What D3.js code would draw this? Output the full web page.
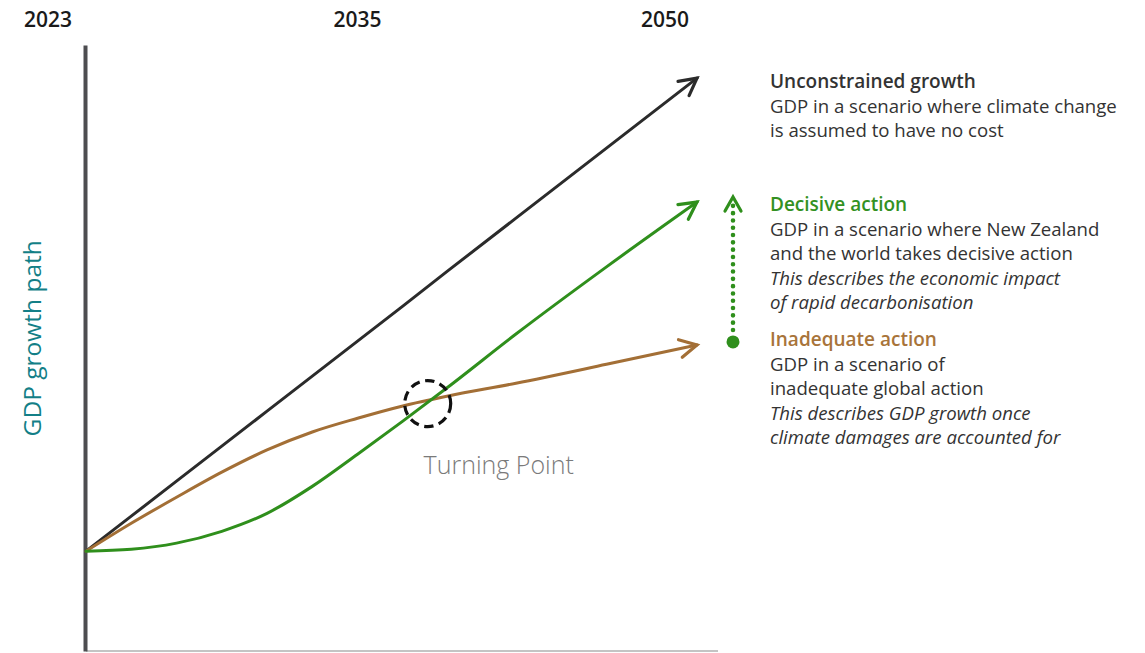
<!DOCTYPE html>
<html>
<head>
<meta charset="utf-8">
<script src="https://cdn.jsdelivr.net/npm/d3@7"></script>
<style>
  html, body { margin: 0; padding: 0; background: #ffffff; }
  svg { display: block; font-family: "Open Sans", "Noto Sans", sans-serif; }
</style>
</head>
<body>
<svg id="chart" width="1145" height="653"></svg>
<script>
// Scenario years and GDP index paths (2023 = 100)
const years = [2023, 2025, 2027, 2029, 2031, 2033, 2035, 2037, 2039, 2042, 2046, 2050];
const unconstrained = [100, 107.4, 114.8, 122.2, 129.6, 137.0, 144.4, 151.8, 159.3, 170.4, 185.2, 200];
const decisive = [100, 100.4, 101.7, 104.2, 108.0, 113.7, 120.5, 127.5, 134.7, 145.9, 160.1, 173.8];
const inadequate = [100, 105.9, 111.4, 116.7, 121.4, 125.2, 128.1, 130.7, 132.8, 135.5, 139.5, 143.6];

const tickYears = [2023, 2035, 2050];
const tickLabels = ["2023", "2035", "2050"];
const turningPoint = { year: 2038.1, value: 131.2, label: "Turning Point" };
const yLabel = "GDP growth path";

const legendBlocks = [
  { title: "Unconstrained growth", color: "#333333",
    lines: ["GDP in a scenario where climate change", "is assumed to have no cost"], italic: [] },
  { title: "Decisive action", color: "#339122",
    lines: ["GDP in a scenario where New Zealand", "and the world takes decisive action"],
    italic: ["This describes the economic impact", "of rapid decarbonisation"] },
  { title: "Inadequate action", color: "#a8743a",
    lines: ["GDP in a scenario of", "inadequate global action"],
    italic: ["This describes GDP growth once", "climate damages are accounted for"] }
];

const svg = d3.select("#chart");

const x = d3.scaleLinear().domain([2023, 2050]).range([86, 697]);
const y = d3.scaleLinear().domain([78.9, 207]).range([651, 45]);

const colors = { black: "#2b2b2b", green: "#2f8f1c", brown: "#a36f36" };

// Arrowhead markers (open chevrons)
const defs = svg.append("defs");
function chevron(id, color, along, half, width) {
  defs.append("marker")
    .attr("id", id)
    .attr("markerUnits", "userSpaceOnUse")
    .attr("viewBox", `${-along - 4} ${-half - 4} ${along + 8} ${2 * half + 8}`)
    .attr("refX", 0).attr("refY", 0)
    .attr("markerWidth", along + 8).attr("markerHeight", 2 * half + 8)
    .attr("orient", "auto")
    .append("path")
    .attr("d", `M${-along},${-half} L0,0 L${-along},${half}`)
    .attr("fill", "none")
    .attr("stroke", color)
    .attr("stroke-width", width)
    .attr("stroke-linecap", "round")
    .attr("stroke-linejoin", "miter");
}
chevron("arrow-black", colors.black, 17, 9, 3.2);
chevron("arrow-green", colors.green, 17, 9, 3.2);
chevron("arrow-brown", colors.brown, 17, 9, 3.2);
chevron("arrow-dots", colors.green, 14, 8, 3.2);

// Axes: bottom baseline and vertical axis
const xAxis = d3.axisBottom(x).tickValues([]).tickSize(0).tickSizeOuter(0);
const gx = svg.append("g").attr("transform", `translate(0,${y(78.9)})`).call(xAxis);
gx.select(".domain").attr("stroke", "#c4c4c4").attr("stroke-width", 2)
  .attr("d", `M${x(2023)},0H${718}`);

const yAxis = d3.axisLeft(y).tickValues([]).tickSize(0).tickSizeOuter(0);
const gy = svg.append("g").attr("transform", `translate(${x(2023) - 1},0)`).call(yAxis);
gy.select(".domain").attr("stroke", "#4d4d50").attr("stroke-width", 4);

// Year labels on top
svg.append("g").selectAll("text")
  .data(tickYears)
  .join("text")
  .attr("x", (d, i) => x(d) + [-38, 0, -32][i])
  .attr("y", 27)
  .attr("text-anchor", "middle")
  .attr("font-size", 21)
  .attr("font-weight", 600)
  .attr("fill", "#1a1a1a")
  .text((d, i) => tickLabels[i]);

// Vertical axis title
svg.append("text")
  .attr("transform", `translate(41,${y(145)}) rotate(-90)`)
  .attr("text-anchor", "middle")
  .attr("font-size", 24.5)
  .attr("fill", "#137f87")
  .text(yLabel);

// Scenario paths
const line = d3.line()
  .x((d, i) => x(years[i]))
  .y(d => y(d));

const series = [
  { values: unconstrained, color: colors.black, marker: "arrow-black", curve: d3.curveLinear },
  { values: inadequate, color: colors.brown, marker: "arrow-brown", curve: d3.curveMonotoneX },
  { values: decisive, color: colors.green, marker: "arrow-green", curve: d3.curveMonotoneX }
];

svg.append("g").selectAll("path")
  .data(series)
  .join("path")
  .attr("d", s => line.curve(s.curve)(s.values))
  .attr("fill", "none")
  .attr("stroke", s => s.color)
  .attr("stroke-width", 3)
  .attr("stroke-linecap", "round")
  .attr("marker-end", s => `url(#${s.marker})`);

// Turning point marker
svg.append("circle")
  .attr("cx", x(turningPoint.year))
  .attr("cy", y(turningPoint.value))
  .attr("r", 23)
  .attr("fill", "none")
  .attr("stroke", "#111")
  .attr("stroke-width", 3.2)
  .attr("stroke-dasharray", "9.5 5.5");

svg.append("text")
  .attr("x", x(turningPoint.year) + 71)
  .attr("y", y(turningPoint.value) + 70)
  .attr("text-anchor", "middle")
  .attr("font-size", 25)
  .attr("font-weight", 300)
  .attr("fill", "#7a7a7a")
  .text(turningPoint.label);

// Dotted gap arrow between inadequate and decisive end points
const gapX = x(2050) + 36;
const yLow = y(inadequate[inadequate.length - 1]) - 3;
const yHigh = y(decisive[decisive.length - 1]) - 5;
svg.append("line")
  .attr("x1", gapX).attr("x2", gapX)
  .attr("y1", yLow - 12).attr("y2", yHigh + 2)
  .attr("stroke", colors.green)
  .attr("stroke-width", 4.6)
  .attr("stroke-linecap", "round")
  .attr("stroke-dasharray", "0 7.3");
svg.append("line")
  .attr("x1", gapX).attr("x2", gapX)
  .attr("y1", yHigh + 1).attr("y2", yHigh)
  .attr("stroke", "none")
  .attr("marker-end", "url(#arrow-dots)");
svg.append("circle")
  .attr("cx", gapX).attr("cy", yLow)
  .attr("r", 6.5)
  .attr("fill", colors.green);

// Legend text blocks
const tx = 770;
const blockTops = [88, 211, 346];
const lh = 24.5;
legendBlocks.forEach((b, bi) => {
  const g = svg.append("g").attr("transform", `translate(${tx},${blockTops[bi]})`);
  g.append("text")
    .attr("font-size", 19).attr("font-weight", 600)
    .attr("fill", b.color)
    .text(b.title);
  b.lines.forEach((t, i) => {
    g.append("text").attr("y", lh * (i + 1))
      .attr("font-size", 18.6).attr("fill", "#333")
      .text(t);
  });
  b.italic.forEach((t, i) => {
    g.append("text").attr("y", lh * (i + 1 + b.lines.length))
      .attr("font-size", 18.6).attr("font-style", "italic").attr("fill", "#333")
      .text(t);
  });
});
</script>
</body>
</html>
